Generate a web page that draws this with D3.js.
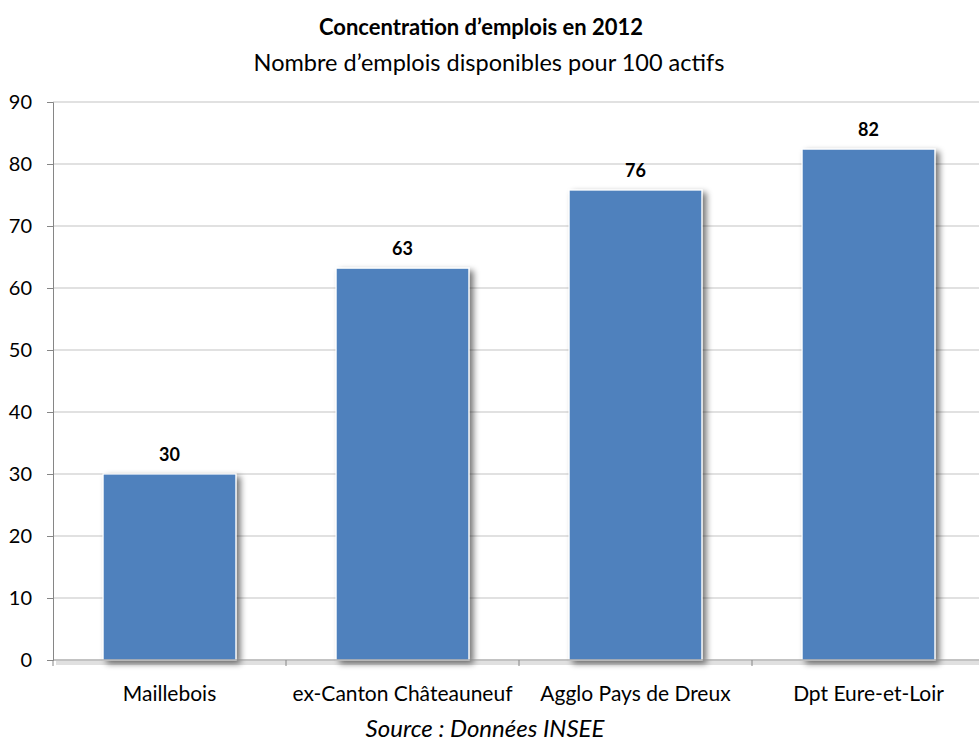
<!DOCTYPE html>
<html>
<head>
<meta charset="utf-8">
<script src="https://cdn.jsdelivr.net/npm/d3@7"></script>
<style>
  body { margin: 0; background: #fff; }
  svg { font-family: Lato, "Open Sans", sans-serif; }
</style>
</head>
<body>
<svg id="chart"></svg>
<script>
const categories = ['Maillebois', 'ex-Canton Châteauneuf', 'Agglo Pays de Dreux', 'Dpt Eure-et-Loir'];
const values = [30.0, 63.2, 75.8, 82.4];
const labels = ['30', '63', '76', '82'];
const yTicks = [0, 10, 20, 30, 40, 50, 60, 70, 80, 90];

const w = 979, h = 748;
const mLeft = 53, mRight = 985, mTop = 102, mBottom = 660;

const svg = d3.select('#chart')
  .attr('width', w)
  .attr('height', h);

const defs = svg.append('defs');
const f = defs.append('filter').attr('id', 'shadow')
  .attr('x', '-10%').attr('y', '-10%').attr('width', '130%').attr('height', '130%');
f.append('feGaussianBlur').attr('in', 'SourceAlpha').attr('stdDeviation', 3);
f.append('feOffset').attr('dx', 4).attr('dy', 3).attr('result', 'b');
f.append('feComponentTransfer').append('feFuncA').attr('type', 'linear').attr('slope', 0.55);
const m = f.append('feMerge');
m.append('feMergeNode');
m.append('feMergeNode').attr('in', 'SourceGraphic');

const x = d3.scaleBand()
  .domain(categories)
  .range([mLeft, mRight])
  .paddingInner(0.43)
  .paddingOuter(0.215);

const y = d3.scaleLinear()
  .domain([0, 90])
  .range([mBottom, mTop]);

// gridlines
svg.append('g')
  .selectAll('line')
  .data(yTicks.slice(1))
  .join('line')
  .attr('x1', mLeft).attr('x2', mRight)
  .attr('y1', d => y(d)).attr('y2', d => y(d))
  .attr('stroke', '#c3c3c3')
  .attr('stroke-width', 1);

// bars
svg.append('g')
  .selectAll('rect')
  .data(values)
  .join('rect')
  .attr('x', (v, i) => x(categories[i]))
  .attr('y', v => y(v))
  .attr('width', x.bandwidth())
  .attr('height', v => mBottom - y(v))
  .attr('fill', '#4f81bd')
  .attr('stroke', '#fff')
  .attr('stroke-width', 1.2)
  .attr('filter', 'url(#shadow)');

// value labels
svg.append('g')
  .selectAll('text')
  .data(values)
  .join('text')
  .attr('x', (v, i) => x(categories[i]) + x.bandwidth() / 2)
  .attr('y', v => y(v) - 13)
  .attr('text-anchor', 'middle')
  .attr('font-size', 18)
  .attr('font-weight', 'bold')
  .attr('fill', '#000')
  .text((v, i) => labels[i]);

// y axis
const yAxis = d3.axisLeft(y).tickValues(yTicks).tickSize(6).tickPadding(15);
const gy = svg.append('g')
  .attr('transform', `translate(${mLeft},0)`)
  .call(yAxis);
gy.select('.domain').attr('stroke', '#868686');
gy.selectAll('.tick line').attr('stroke', '#868686');
gy.selectAll('.tick text').attr('font-size', 20).attr('fill', '#000')
  .attr('font-family', 'Lato, "Open Sans", sans-serif');

// x axis (soft shadow line under it, then the axis)
const gx = svg.append('g')
  .attr('transform', `translate(0,${mBottom})`);
gx.append('line')
  .attr('x1', mLeft + 3).attr('x2', mRight)
  .attr('y1', 3).attr('y2', 3)
  .attr('stroke', '#000')
  .attr('stroke-opacity', 0.12)
  .attr('stroke-width', 4);
gx.append('line')
  .attr('x1', mLeft).attr('x2', mRight)
  .attr('y1', 0).attr('y2', 0)
  .attr('stroke', '#868686');
gx.selectAll('.xt')
  .data(categories)
  .join('line')
  .attr('class', 'xt')
  .attr('x1', d => x(d) - x.step() * x.paddingInner() / 2)
  .attr('x2', d => x(d) - x.step() * x.paddingInner() / 2)
  .attr('y1', 0).attr('y2', 6)
  .attr('stroke', '#868686');
gx.selectAll('.xl')
  .data(categories)
  .join('text')
  .attr('class', 'xl')
  .attr('x', d => x(d) + x.bandwidth() / 2)
  .attr('y', 41)
  .attr('text-anchor', 'middle')
  .attr('font-size', 21)
  .attr('fill', '#000')
  .text(d => d);

// titles
svg.append('text')
  .attr('x', 481).attr('y', 35)
  .attr('text-anchor', 'middle')
  .attr('font-size', 22).attr('font-weight', 'bold')
  .text('Concentration d’emplois en 2012');
svg.append('text')
  .attr('x', 489).attr('y', 71)
  .attr('text-anchor', 'middle')
  .attr('font-size', 23.5)
  .text('Nombre d’emplois disponibles pour 100 actifs');
svg.append('text')
  .attr('x', 485).attr('y', 737)
  .attr('text-anchor', 'middle')
  .attr('font-size', 24).attr('font-style', 'italic')
  .text('Source : Données INSEE');
</script>
</body>
</html>
